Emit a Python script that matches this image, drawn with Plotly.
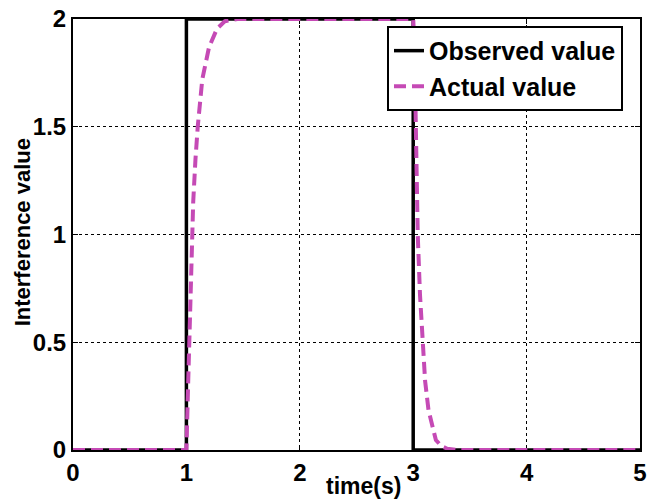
import plotly.graph_objects as go

# Observed (step) signal
obs_t = [0, 1, 1, 3, 3, 5]
obs_v = [0, 0, 2, 2, 0, 0]

# Actual signal
act_t = [0, 1.0, 1.015, 1.03, 1.045, 1.06, 1.08, 1.10, 1.14, 1.20, 1.27, 1.34, 1.45,
         3.0, 3.01, 3.025, 3.04, 3.06, 3.08, 3.105, 3.135, 3.17, 3.2, 3.25, 3.3, 3.4, 5]
act_v = [0, 0, 0.30, 0.60, 0.90, 1.15, 1.35, 1.50, 1.72, 1.87, 1.955, 1.99, 2.0,
         2.0, 1.90, 1.50, 1.00, 0.72, 0.50, 0.32, 0.185, 0.10, 0.046, 0.018, 0.006, 0, 0]

x_ticks = [0, 1, 2, 3, 4, 5]
y_ticks = [0, 0.5, 1, 1.5, 2]
y_tick_labels = ["0", "0.5", "1", "1.5", "2"]

FONT = "Arial, Liberation Sans, sans-serif"

fig = go.Figure()
fig.add_trace(go.Scatter(x=obs_t, y=obs_v, mode="lines", name="Observed value",
                         line=dict(color="black", width=3.5)))
fig.add_trace(go.Scatter(x=act_t, y=act_v, mode="lines", name="Actual value",
                         line=dict(color="#C54AB5", width=4, dash="12px,6px")))

axis_common = dict(
    showline=True, linecolor="black", linewidth=2, mirror="ticks",
    ticks="inside", ticklen=5, tickwidth=1, tickcolor="black",
    showgrid=True, gridcolor="black", gridwidth=1, griddash="dot",
    zeroline=False, layer="below traces",
    tickfont=dict(family=FONT, size=24, color="black", weight="bold"),
)

fig.update_xaxes(range=[0, 5], tickvals=x_ticks, ticktext=[str(v) for v in x_ticks], **axis_common)
fig.update_yaxes(range=[0, 2], tickvals=y_ticks, ticktext=y_tick_labels, **axis_common)

fig.update_layout(
    width=652, height=500,
    margin=dict(l=73, r=5, t=17, b=50),
    paper_bgcolor="white", plot_bgcolor="white",
    font=dict(family=FONT, color="black", weight="bold"),
    legend=dict(x=0.97, y=0.984, xanchor="right", yanchor="top",
                bgcolor="white", bordercolor="black", borderwidth=2,
                font=dict(family=FONT, size=25, color="black", weight="bold"),
                tracegroupgap=0),
    annotations=[
        dict(text="time(s)", xref="paper", yref="paper", x=0.512, y=0,
             xanchor="center", yanchor="middle", yshift=-36, showarrow=False,
             font=dict(family=FONT, size=23, color="black", weight="bold")),
        dict(text="Interference value", xref="paper", yref="paper", x=0, y=0.505,
             xanchor="center", yanchor="middle", xshift=-51, textangle=-90,
             showarrow=False,
             font=dict(family=FONT, size=22, color="black", weight="bold")),
    ],
)

fig.write_html("out.html", config={"displayModeBar": False},
               post_script="document.body.style.margin='0';document.body.style.overflow='hidden';")
